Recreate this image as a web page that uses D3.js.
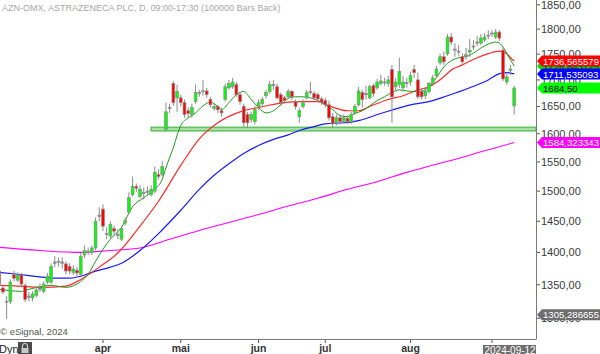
<!DOCTYPE html>
<html>
<head>
<meta charset="utf-8">
<script src="https://cdn.jsdelivr.net/npm/d3@7"></script>
<style>
  body { margin: 0; background: #fff; }
  svg text { font-family: "Liberation Sans", Arial, sans-serif; }
</style>
</head>
<body>
<div id="chart"></div>
<script>
// daily candles, AZN (Stockholm), late Feb - Sep 2024
var opens = [1371,1345,1325,1325,1365,1357,1365,1349,1333,1330,
    1334,1343,1340,1354,1354,1383,1385,1385,1382,1378,
    1369,1372,1366,1396,1400,1400,1407,1458,1470,1430,
    1426,1438,1429,1421,1447,1465,1494,1508,1491,1498,
    1500,1494,1500,1528,1528,1608,1646,1693,1666,1666,
    1657,1642,1635,1659,1674,1678,1679,1663,1646,1650,
    1642,1663,1685,1687,1691,1672,1650,1635,1626,1622,
    1650,1655,1670,1678,1689,1687,1672,1666,1668,1678,
    1659,1631,1650,1666,1676,1674,1672,1664,1661,1653,
    1631,1620,1629,1622,1628,1622,1638,1653,1676,1672,
    1666,1689,1685,1693,1695,1693,1720,1687,1691,1685,
    1693,1696,1720,1700,1678,1670,1678,1693,1708,1733,
    1745,1751,1784,1758,1754,1745,1747,1754,1764,1772,
    1772,1778,1786,1790,1784,1794,1758,1696,1718,1651];
var closes = [1351,1339,1324,1354,1360,1365,1351,1328,1331,1336,
    1342,1345,1351,1363,1378,1385,1386,1383,1371,1371,
    1374,1368,1394,1403,1402,1407,1450,1460,1442,1429,
    1445,1434,1427,1438,1451,1489,1508,1505,1503,1496,
    1498,1503,1532,1525,1542,1640,1648,1657,1678,1657,
    1635,1637,1648,1676,1676,1679,1672,1653,1650,1644,
    1638,1687,1693,1696,1672,1659,1620,1620,1635,1644,
    1657,1663,1676,1691,1691,1666,1657,1661,1678,1668,
    1650,1642,1657,1676,1678,1666,1664,1657,1653,1629,
    1618,1629,1622,1629,1622,1635,1650,1679,1663,1674,
    1687,1674,1696,1698,1696,1700,1668,1696,1716,1696,
    1695,1708,1714,1668,1668,1679,1693,1704,1721,1745,
    1735,1784,1774,1760,1756,1735,1749,1758,1766,1774,
    1782,1784,1788,1792,1794,1782,1702,1706,1721,1684.5];
var highs = [1377,1349,1333,1358,1371,1369,1368,1352,1339,1340,
    1348,1352,1355,1368,1383,1394,1392,1392,1386,1383,
    1380,1377,1399,1411,1408,1411,1456,1473,1478,1440,
    1450,1443,1437,1442,1456,1498,1525,1513,1510,1506,
    1508,1510,1542,1537,1552,1657,1655,1698,1691,1672,
    1663,1648,1655,1691,1681,1700,1685,1668,1655,1653,
    1648,1693,1700,1704,1696,1676,1655,1640,1640,1651,
    1663,1668,1681,1698,1700,1693,1676,1670,1683,1681,
    1663,1648,1663,1681,1696,1678,1676,1668,1666,1661,
    1638,1635,1635,1635,1633,1640,1655,1687,1681,1689,
    1691,1693,1702,1710,1704,1708,1729,1704,1743,1708,
    1704,1716,1729,1714,1685,1685,1696,1710,1727,1751,
    1755,1790,1792,1772,1768,1752,1762,1780,1778,1786,
    1790,1792,1798,1798,1800,1798,1764,1714,1729,1689];
var lows = [1348,1336,1299,1321,1355,1354,1346,1324,1325,1325,
    1331,1339,1337,1351,1351,1377,1378,1375,1366,1366,
    1365,1362,1363,1391,1396,1396,1403,1450,1434,1421,
    1422,1427,1421,1418,1443,1461,1491,1498,1488,1486,
    1493,1491,1496,1520,1525,1604,1638,1651,1640,1650,
    1629,1629,1629,1655,1668,1670,1666,1648,1642,1638,
    1631,1659,1681,1683,1668,1653,1613,1611,1620,1617,
    1644,1650,1664,1674,1681,1663,1651,1655,1664,1663,
    1644,1620,1646,1663,1672,1661,1659,1653,1648,1624,
    1611,1615,1617,1618,1618,1618,1635,1650,1648,1663,
    1663,1668,1681,1689,1689,1687,1620,1681,1685,1678,
    1685,1689,1704,1664,1663,1664,1674,1689,1704,1729,
    1729,1747,1768,1745,1747,1731,1739,1745,1758,1766,
    1768,1774,1780,1784,1780,1776,1698,1691,1710,1635];

// moving averages: [bar index, value]
var greenMA = [[0,1343],[6,1340],[8,1343],[14,1349],[18,1346],[22,1355],[24,1366],[26,1386],
    [28,1405],[30,1421],[33,1440],[36,1474],[39,1489],[42,1503],[44,1520],[45,1540],[46,1558],
    [47,1575],[48,1597],[49,1615],[51,1629],[53,1638],[55,1651],[57,1658],[59,1650],[60,1644],
    [62,1657],[64,1672],[66,1678],[68,1663],[70,1648],[72,1638],[74,1642],[76,1653],[78,1665],
    [80,1668],[82,1668],[84,1666],[86,1661],[88,1653],[90,1644],[92,1633],[94,1631],[96,1637],
    [98,1642],[100,1651],[102,1661],[104,1668],[106,1676],[108,1681],[110,1679],[112,1678],
    [114,1679],[116,1687],[118,1704],[120,1725],[122,1737],[124,1743],[126,1745],[128,1752],
    [130,1762],[132,1770],[134,1774],[135,1772],[136,1764],[137,1752],[138,1739],[139,1727]];
var redMA = [[0,1349],[5,1348],[11,1346],[18,1348],[22,1358],[27,1377],[32,1399],[38,1442],
    [43,1483],[49,1544],[54,1591],[59,1620],[65,1640],[70,1648],[77,1657],[81,1659],[86,1659],
    [89,1651],[94,1642],[97,1642],[100,1650],[105,1663],[109,1670],[113,1681],[116,1687],
    [120,1706],[122,1719],[125,1729],[129,1743],[132,1751],[135,1756],[136,1754],[137,1751],
    [138,1743],[139,1736.57]];
var blueMA = [[0,1369],[5,1366],[11,1362],[15,1360],[19,1360],[22,1363],[25,1369],[30,1377],
    [33,1383],[38,1403],[43,1430],[49,1468],[54,1503],[58,1527],[62,1547],[66,1565],[70,1579],
    [74,1590],[78,1598],[81,1606],[85,1613],[88,1618],[93,1620],[97,1624],[103,1637],[111,1653],
    [116,1659],[121,1670],[127,1685],[132,1700],[135,1712],[137,1714],[139,1711.54]];
var magentaMA = [[0,1408],[11,1403],[22,1400],[30,1403],[38,1407],[46,1421],[54,1435],[62,1448],
    [70,1461],[78,1475],[86,1488],[94,1503],[102,1516],[110,1532],[118,1546],[126,1560],
    [130,1568],[134,1575],[139,1584.32]];

// support zone
var zoneStart = 41, zoneLow = 1605, zoneHigh = 1612;

// axis labels
var priceTicks = [1300, 1350, 1400, 1450, 1500, 1550, 1600, 1650, 1700, 1750, 1800, 1850];
var monthIdx = [28, 49, 70, 88, 111, 133];
var monthNames = ["apr", "mai", "jun", "jul", "aug", ""];

// last value tags (drawn in this order)
var tagValues = [1726.84, 1736.565579, 1711.535093, 1684.50, 1584.323343, 1305.286655];
var tagTexts = ["1726,843125", "1736,565579", "1711,535093", "1684,50", "1584,323343", "1305,286655"];
var tagFill = ["#00e000", "#ff0000", "#0000ff", "#00ff00", "#ff00ff", "#6e6e6e"];
var tagInk = ["#000", "#fff", "#fff", "#000", "#fff", "#fff"];

var W = 600, H = 354;
var plotW = 536, plotH = 339;

var loc = d3.formatLocale({ decimal: ",", thousands: "", grouping: [3], currency: ["", ""] });
var fmt = loc.format(".2f");

var svg = d3.select("#chart")
    .append("svg")
    .attr("width", W)
    .attr("height", H);

svg.append("rect").attr("width", W).attr("height", H).attr("fill", "#fff");

var x = d3.scaleLinear().domain([0, closes.length - 1]).range([-0.77, 514.2]);
var y = d3.scaleLog().domain([1270, 1860]).range([plotH, 0]);

svg.append("clipPath").attr("id", "plotclip")
    .append("rect").attr("width", plotW).attr("height", plotH);

var plot = svg.append("g").attr("clip-path", "url(#plotclip)");

// title
svg.append("text")
    .attr("x", 2).attr("y", 11)
    .attr("fill", "#a8a8a8")
    .style("font-size", "9px")
    .text("AZN-OMX, ASTRAZENECA PLC, D, 09:00-17:30 (100000 Bars Back)");

// support zone
plot.append("rect")
    .attr("x", x(zoneStart))
    .attr("y", y(zoneHigh))
    .attr("width", plotW - x(zoneStart))
    .attr("height", y(zoneLow) - y(zoneHigh))
    .attr("fill", "#a9dea4")
    .attr("stroke", "#36b236")
    .attr("stroke-width", 1);

// moving averages
var line = d3.line()
    .x(function (d) { return x(d[0]); })
    .y(function (d) { return y(d[1]); })
    .curve(d3.curveMonotoneX);

plot.append("path").datum(magentaMA).attr("d", line)
    .attr("fill", "none").attr("stroke", "#ff00ff").attr("stroke-width", 1.1);
plot.append("path").datum(blueMA).attr("d", line)
    .attr("fill", "none").attr("stroke", "#1a1aff").attr("stroke-width", 1.2);
plot.append("path").datum(redMA).attr("d", line)
    .attr("fill", "none").attr("stroke", "#ff2a2a").attr("stroke-width", 1.2);
plot.append("path").datum(greenMA).attr("d", line)
    .attr("fill", "none").attr("stroke", "#1d9a1d").attr("stroke-width", 1);

// candles
var idx = d3.range(closes.length);
var candle = plot.selectAll(".candle")
    .data(idx)
    .enter()
    .append("g")
    .attr("class", "candle");

candle.append("line")
    .attr("x1", function (i) { return x(i); })
    .attr("x2", function (i) { return x(i); })
    .attr("y1", function (i) { return y(highs[i]); })
    .attr("y2", function (i) { return y(lows[i]); })
    .attr("stroke", "#8c8c8c")
    .attr("stroke-width", 1);

candle.append("rect")
    .attr("x", function (i) { return x(i) - 1.4; })
    .attr("width", 2.8)
    .attr("y", function (i) { return y(Math.max(opens[i], closes[i])); })
    .attr("height", function (i) {
        return Math.max(0.8, y(Math.min(opens[i], closes[i])) - y(Math.max(opens[i], closes[i])));
    })
    .attr("fill", function (i) {
        if (Math.abs(closes[i] - opens[i]) < 2.5) return "#8c8c8c";
        return closes[i] > opens[i] ? "#00ff00" : "#ff0000";
    })
    .attr("stroke", "#8c8c8c")
    .attr("stroke-width", 0.7);

// frame
svg.append("line").attr("x1", plotW + 0.5).attr("x2", plotW + 0.5)
    .attr("y1", 0).attr("y2", plotH).attr("stroke", "#7a7a7a");
svg.append("line").attr("x1", 0).attr("x2", plotW + 0.5)
    .attr("y1", plotH + 0.5).attr("y2", plotH + 0.5).attr("stroke", "#7a7a7a");

// price axis
var yt = svg.append("g").selectAll("g")
    .data(priceTicks)
    .enter().append("g")
    .attr("transform", function (d) { return "translate(0," + y(d) + ")"; });
yt.append("line").attr("x1", plotW + 1).attr("x2", plotW + 4)
    .attr("stroke", "#555");
yt.append("text")
    .attr("x", plotW + 5).attr("y", 4)
    .attr("fill", "#3a3a3a")
    .style("font-size", "11px")
    .text(function (d) { return fmt(d); });

// month axis
var xt = svg.append("g").selectAll("g")
    .data(monthIdx)
    .enter().append("g")
    .attr("transform", function (d) { return "translate(" + x(d) + ",0)"; });
xt.append("line").attr("y1", plotH + 1).attr("y2", plotH + 4).attr("stroke", "#555");
xt.append("text")
    .attr("y", 352)
    .attr("text-anchor", "middle")
    .attr("fill", "#333")
    .style("font-size", "10.5px")
    .style("font-weight", "bold")
    .text(function (d, i) { return monthNames[i]; });

// date box
svg.append("rect").attr("x", 483).attr("y", 345).attr("width", 53).attr("height", 10)
    .attr("fill", "#6e6e6e");
svg.append("text").attr("x", 484.5).attr("y", 353.5)
    .attr("fill", "#fff").style("font-size", "10px")
    .text("2024-09-12");

// value tags
var tags = svg.append("g").selectAll("g")
    .data(tagValues)
    .enter().append("g")
    .attr("transform", function (d) { return "translate(0," + y(d) + ")"; });
tags.append("path")
    .attr("d", "M537,0L542,-5.5L600,-5.5L600,5.5L542,5.5Z")
    .attr("fill", function (d, i) { return tagFill[i]; });
tags.append("text")
    .attr("x", 543).attr("y", 3.6)
    .attr("fill", function (d, i) { return tagInk[i]; })
    .style("font-size", "9.6px")
    .text(function (d, i) { return tagTexts[i]; });

// footer
svg.append("text").attr("x", 0).attr("y", 335)
    .attr("fill", "#555").style("font-size", "9.5px")
    .text("\u00a9 eSignal, 2024");
svg.append("text").attr("x", -1).attr("y", 353)
    .attr("fill", "#222").style("font-size", "11px")
    .text("Dyn");
svg.append("rect").attr("x", 18).attr("y", 342).attr("width", 14).attr("height", 12)
    .attr("fill", "#4a4a4a");
svg.append("path")
    .attr("d", "M22.5,348V346a2.5,2.5 0 0 1 5,0V348")
    .attr("fill", "none").attr("stroke", "#c8c8c8").attr("stroke-width", 1.2);
svg.append("rect").attr("x", 21.5).attr("y", 348).attr("width", 7).attr("height", 5)
    .attr("fill", "#c8c8c8");
</script>
</body>
</html>
